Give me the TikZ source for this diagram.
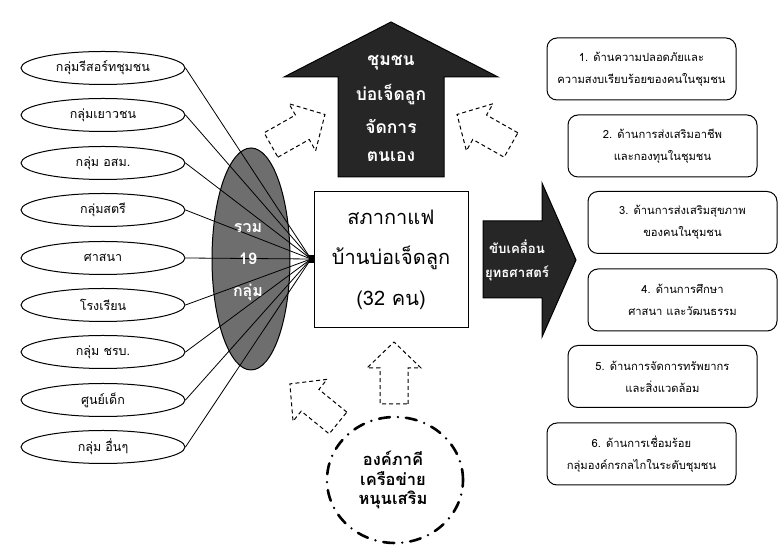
\documentclass[tikz,border=0pt]{standalone}
\usepackage{fontspec}
\setmainfont[Script=Thai]{Loma}
\usetikzlibrary{shapes.geometric}
\definecolor{darkfill}{RGB}{38,38,38}
\definecolor{grayfill}{RGB}{110,110,110}
\newcommand\dasharr[3]{\draw[darr,shift={(#1,#2)},rotate=#3] (0,-14)--(36,-14)--(36,-27)--(62,0)--(36,27)--(36,14)--(0,14)--cycle;}
\begin{document}
\begin{tikzpicture}[x=1pt,y=1pt,
  grp/.style={ellipse, draw, line width=1pt, minimum width=164pt, minimum height=33pt, inner sep=0pt, font=\fontsize{12.5}{14}\selectfont},
  side/.style={rounded corners=10pt, draw, line width=1pt, minimum width=189pt, minimum height=62pt, inner sep=0pt, align=center, font=\fontsize{11.2}{22}\selectfont},
  wtxt/.style={text=white, font=\bfseries\fontsize{16}{18}\selectfont, inner sep=0pt},
  ctxt/.style={font=\fontsize{20}{22}\selectfont, inner sep=0pt},
  utxt/.style={text=white, font=\bfseries\fontsize{17.5}{20}\selectfont, inner sep=0pt},
  rtxt/.style={text=white, font=\bfseries\fontsize{13.2}{16}\selectfont, inner sep=0pt},
  ntxt/.style={font=\bfseries\fontsize{16.5}{18}\selectfont, inner sep=0pt},
  darr/.style={dashed, dash pattern=on 4pt off 3pt, line width=1pt},
  link/.style={line width=0.8pt},
  bigarrow/.style={fill=darkfill, draw=black, line width=1pt}
]
\useasboundingbox (0,0) rectangle (779,545);

% gray collector ellipse
\node[ellipse, draw, line width=1pt, fill=grayfill, minimum width=78pt, minimum height=222pt, inner sep=0pt] (G) at (251,286) {};
\node[fill=black, minimum width=5pt, minimum height=8pt, inner sep=0pt] (J) at (311,286) {};

% group ellipses
\node[grp] (g1) at (103,477) {กลุ่มรีสอร์ทชุมชน};
\node[grp] (g2) at (103,430) {กลุ่มเยาวชน};
\node[grp] (g3) at (103,382) {กลุ่ม อสม.};
\node[grp] (g4) at (103,335) {กลุ่มสตรี};
\node[grp] (g5) at (103,287) {ศาสนา};
\node[grp] (g6) at (103,240) {โรงเรียน};
\node[grp] (g7) at (103,193) {กลุ่ม ชรบ.};
\node[grp] (g8) at (103,145) {ศูนย์เด็ก};
\node[grp] (g9) at (103,98) {กลุ่ม อื่นๆ};
\foreach \i in {1,...,9} \draw[link] (g\i.east) -- (J.center);

\node[wtxt] (t1) at (248,317) {รวม};
\node[wtxt] (t2) at (248,286) {19};
\node[wtxt] (t3) at (248,253) {กลุ่ม};

% centre box
\node[draw, line width=1pt, minimum width=154pt, minimum height=136pt, inner sep=0pt] (C) at (391,285) {};
\node[ctxt] (c1) at (391,328) {สภากาแฟ};
\node[ctxt] (c2) at (391,287) {บ้านบ่อเจ็ดลูก};
\node[ctxt] (c3) at (391,245) {(32 คน)};

% top dark arrow
\draw[bigarrow] (391,523) -- (498,468) -- (444,468) -- (444,368) -- (338,368) -- (338,468) -- (284,468) -- cycle;
\node[utxt] (u1) at (391,482) {ชุมชน};
\node[utxt] (u2) at (391,450) {บ่อเจ็ดลูก};
\node[utxt] (u3) at (391,419) {จัดการ};
\node[utxt] (u4) at (391,388) {ตนเอง};

% right dark arrow
\draw[bigarrow] (483,324) -- (542,324) -- (542,362) -- (576,285) -- (542,208) -- (542,247) -- (483,247) -- cycle;
\node[rtxt] (r1) at (517,298) {ขับเคลื่อน};
\node[rtxt] (r2) at (517,272) {ยุทธศาสตร์};

% strategy boxes
\node[side] (s1) at (641.5,476) {1. ด้านความปลอดภัยและ\\ความสงบเรียบร้อยของคนในชุมชน};
\node[side] (s2) at (662.5,399) {2. ด้านการส่งเสริมอาชีพ\\และกองทุนในชุมชน};
\node[side] (s3) at (682.5,322.5) {3. ด้านการส่งเสริมสุขภาพ\\ของคนในชุมชน};
\node[side] (s4) at (682.5,245) {4. ด้านการศึกษา\\ศาสนา และวัฒนธรรม};
\node[side] (s5) at (662.5,168.5) {5. ด้านการจัดการทรัพยากร\\และสิ่งแวดล้อม};
\node[side] (s6) at (641.5,91) {6. ด้านการเชื่อมร้อย\\กลุ่มองค์กรกลไกในระดับชุมชน};

% dashed arrows
\dasharr{511}{400}{150.5}
\dasharr{271}{400}{29.5}
\dasharr{394}{141}{90}
\dasharr{338}{122}{140.9}

% network circle
\node[ellipse, draw, line width=2.6pt, line cap=round, dash pattern=on 11pt off 8pt on 0pt off 8pt, minimum width=136pt, minimum height=126pt, inner sep=0pt] (N) at (395,65) {};
\node[ntxt] (n1) at (393,87) {องค์ภาคี};
\node[ntxt] (n2) at (393,66) {เครือข่าย};
\node[ntxt] (n3) at (393,45) {หนุนเสริม};
\end{tikzpicture}
\end{document}
